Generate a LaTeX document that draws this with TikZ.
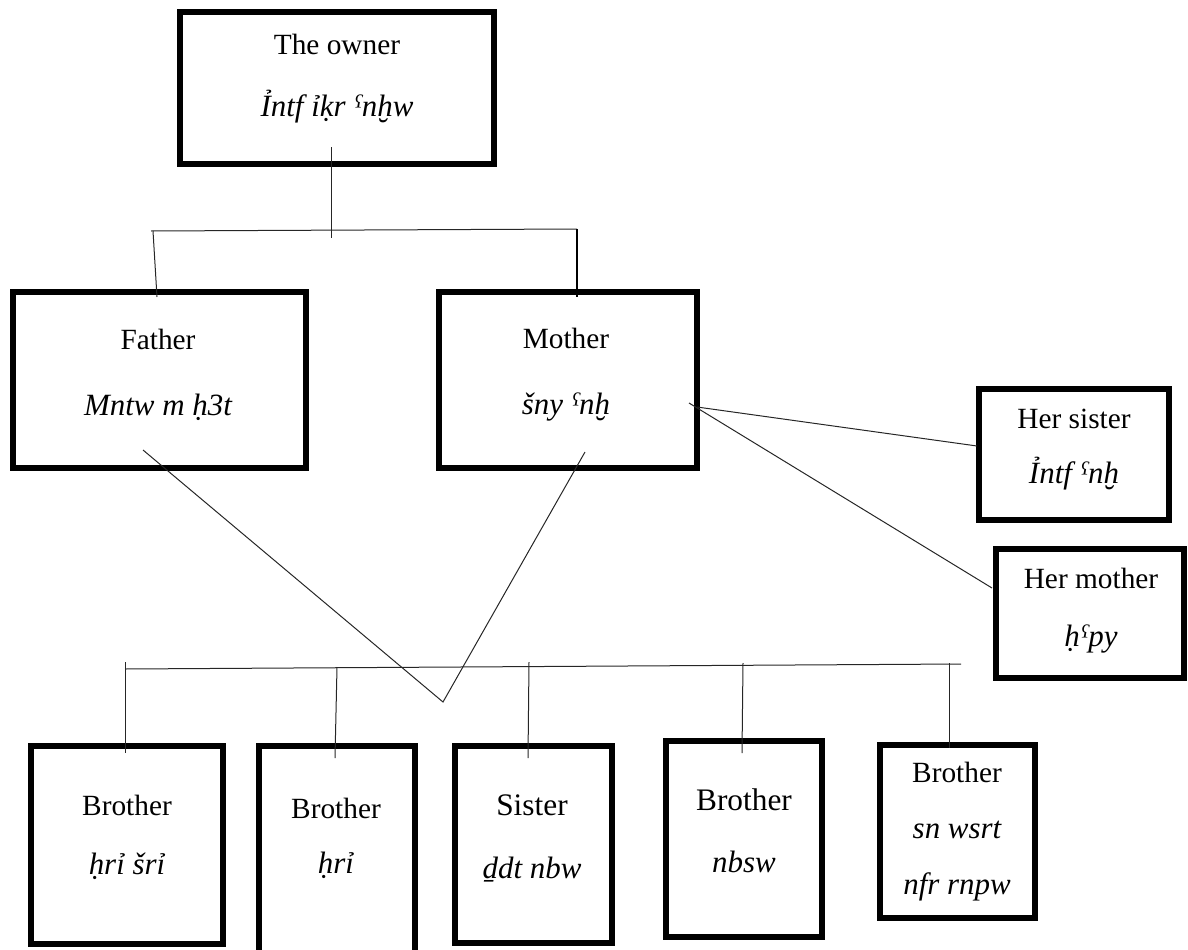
\documentclass[tikz,border=0pt]{standalone}
\usepackage{fontspec}
\setmainfont{Liberation Serif}
\usetikzlibrary{calc}
\newdimen\pxu \pxu=0.75pt
\newcommand\uch[2]{\iffontchar\font"#1 \symbol{"#1}\else #2\fi}
\newcommand\ALF{\uch{A723}{3}}
\newcommand\AYN{\uch{A725}{\uch{02E4}{\textsuperscript{c}}}}
\newcommand\translit[1]{{\fontsize{23.2}{\baselineskip}\selectfont\itshape #1}}
\tikzset{
  box/.style={draw, line width=6.5\pxu, inner sep=0pt, outer sep=0pt},
  txt/.style={align=center, inner sep=0pt, font=\fontsize{22}{#1}\selectfont},
  bigtxt/.style={align=center, inner sep=0pt, font=\fontsize{23.5}{#1}\selectfont},
  conn/.style={line width=1\pxu, draw=black!85},
}
\begin{document}
\begin{tikzpicture}[x=0.75pt,y=-0.75pt]
\useasboundingbox (0,0) rectangle (1188,949);
% boxes
\node[box,minimum width=314\pxu,minimum height=152\pxu] (owner) at (337,88) {};
\node[box,minimum width=293\pxu,minimum height=176\pxu] (father) at (159.5,380) {};
\node[box,minimum width=258\pxu,minimum height=176\pxu] (mother) at (568,380) {};
\node[box,minimum width=190\pxu,minimum height=131\pxu] (hsis) at (1074,454.5) {};
\node[box,minimum width=188\pxu,minimum height=129\pxu] (hmot) at (1090,613.5) {};
\node[box,minimum width=192\pxu,minimum height=198\pxu] (b1) at (127,845) {};
\node[box,minimum width=156\pxu,minimum height=214\pxu] (b2) at (337,853) {};
\node[box,minimum width=157\pxu,minimum height=197\pxu] (b3) at (533.5,844.5) {};
\node[box,minimum width=156\pxu,minimum height=196\pxu] (b4) at (744,839) {};
\node[box,minimum width=155\pxu,minimum height=173\pxu] (b5) at (957.5,831.5) {};
% texts
\node[txt=46.5] (ownerT) at (337,79) {The owner\\\translit{Ỉntf ỉḳr \AYN nḫw}};
\node[txt=49.5] (fatherT) at (158,375) {Father\\\translit{Mntw m ḥ\ALF t}};
\node[txt=49.5] (motherT) at (566,375) {Mother\\\translit{šny \AYN nḫ}};
\node[txt=41.25] (hsisT) at (1074,449.5) {Her sister\\\translit{Ỉntf \AYN nḫ}};
\node[txt=43.5] (hmotT) at (1091,611) {Her mother\\\translit{ḥ\AYN py}};
\node[txt=44.25] (b1T) at (127,837.5) {Brother\\\translit{ḥrỉ šrỉ}};
\node[txt=41.25] (b2T) at (336,838.5) {Brother\\\translit{ḥrỉ}};
\node[bigtxt=47.25] (b3T) at (532,838.5) {Sister\\\translit{ḏdt nbw}};
\node[bigtxt=46.5] (b4T) at (744,831) {Brother\\\translit{nbsw}};
\node[txt=42] (b5T) at (957,832) {Brother\\\translit{sn wsrt}\\\translit{nfr rnpw}};
% top connectors
\coordinate (topL) at (151,231);
\coordinate (topR) at (577,229);
\coordinate (stemE) at (331,238);
\draw[conn] ($(owner.south)+(-6,-17)$) -- (stemE);
\draw[conn] (topL) -- (topR);
\draw[conn] ($(topL)+(2,0)$) -- ($(father.north)+(-2.5,5)$);
\draw[conn, line width=2.2\pxu, draw=black] (topR) -- ($(mother.north)+(9,5)$);
% crossing lines
\coordinate (vtip) at (443,702);
\draw[conn] ($(father.south)+(-16.5,-18)$) -- (vtip) -- ($(mother.south)+(17,-16)$);
% mother to her relatives
\draw[conn] ($(mother.east)+(0,27)$) -- ($(hsis.west)+(-2,-8.5)$);
\draw[conn] ($(mother.east)+(-8,23)$) -- ($(hmot.west)+(-4,-25.5)$);
% bottom bar
\coordinate (botL) at (125,669);
\coordinate (botR) at (961,664);
\draw[conn] (botL) -- (botR);
\coordinate (s1) at (125,662);
\coordinate (s2) at (337,667);
\coordinate (s3) at (529,662);
\coordinate (s4) at (743,663);
\coordinate (s5) at (949,663);
\draw[conn] (s1) -- ($(b1.north)+(-2,7)$);
\draw[conn] (s2) -- ($(b2.north)+(-2,12)$);
\draw[conn] (s3) -- ($(b3.north)+(-5.5,12)$);
\draw[conn] (s4) -- ($(b4.north)+(-2,12)$);
\draw[conn] (s5) -- ($(b5.north)+(-8.5,3)$);
\end{tikzpicture}
\end{document}
